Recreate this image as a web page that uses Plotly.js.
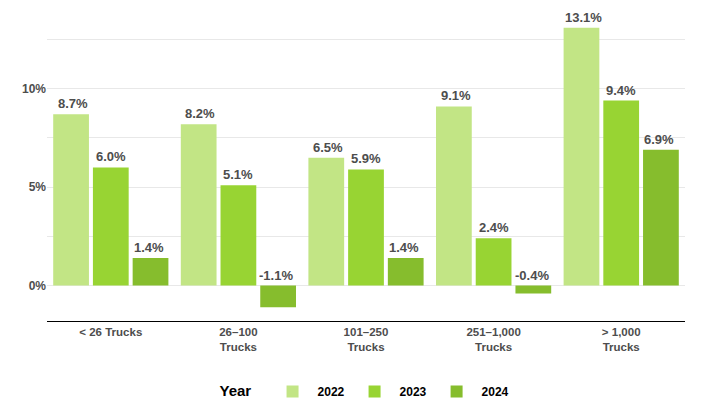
<!DOCTYPE html>
<html><head><meta charset="utf-8">
<script src="https://cdn.plot.ly/plotly-3.0.0.min.js"></script>
<style>body{margin:0}#chart{width:706px;height:417px}</style>
</head><body><div id="chart"></div>
<script>
var categories = ['< 26 Trucks', '26–100<br>Trucks', '101–250<br>Trucks', '251–1,000<br>Trucks', '> 1,000<br>Trucks'];
var years = ['2022', '2023', '2024'];
var v2022 = [8.7, 8.2, 6.5, 9.1, 13.1];
var v2023 = [6.0, 5.1, 5.9, 2.4, 9.4];
var v2024 = [1.4, -1.1, 1.4, -0.4, 6.9];
var colors = ['#c2e585', '#98d433', '#86bd2d'];

var series = [v2022, v2023, v2024];
var data = series.map(function (vals, i) {
    return {x: categories, y: vals, type: 'bar', name: years[i],
        marker: {color: colors[i]}, hoverinfo: 'none'};
});

var annotations = [];
series.forEach(function (vals, i) {
    vals.forEach(function (v, j) {
        annotations.push({x: categories[j], y: Math.max(v, 0), xref: 'x', yref: 'y',
            text: v.toFixed(1) + '%', showarrow: false, yanchor: 'bottom',
            xshift: (i - 1) * 38, yshift: 1,
            font: {family: 'Liberation Sans, Arial', size: 13, color: '#4d4d4d', weight: 'bold'}});
    });
});

var layout = {
    width: 706, height: 417,
    margin: {l: 47, r: 21, t: 10, b: 91},
    barmode: 'group', bargap: 0.066, bargroupgap: 0.1,
    plot_bgcolor: '#fff', paper_bgcolor: '#fff',
    font: {family: 'Liberation Sans, Arial', color: '#4d4d4d'},
    xaxis: {showline: true, linecolor: '#000', linewidth: 1.2, ticks: '',
        tickfont: {size: 11.5, weight: 'bold', color: '#4d4d4d'}},
    yaxis: {range: [-1.8, 14], tickvals: [0, 2.5, 5, 7.5, 10, 12.5],
        ticktext: ['0%', '', '5%', '', '10%', ''], gridcolor: '#e8e8e8',
        zeroline: false, ticks: '', tickfont: {size: 12, weight: 'bold', color: '#4d4d4d'}},
    legend: {orientation: 'h', x: 0.5, xanchor: 'center', y: -0.18, yanchor: 'top',
        title: {text: 'Year  ', font: {size: 15, weight: 'bold', color: '#000'}},
        font: {size: 12, weight: 'bold', color: '#000'}, itemwidth: 40},
    annotations: annotations
};
Plotly.newPlot('chart', data, layout, {staticPlot: true});
</script></body></html>
